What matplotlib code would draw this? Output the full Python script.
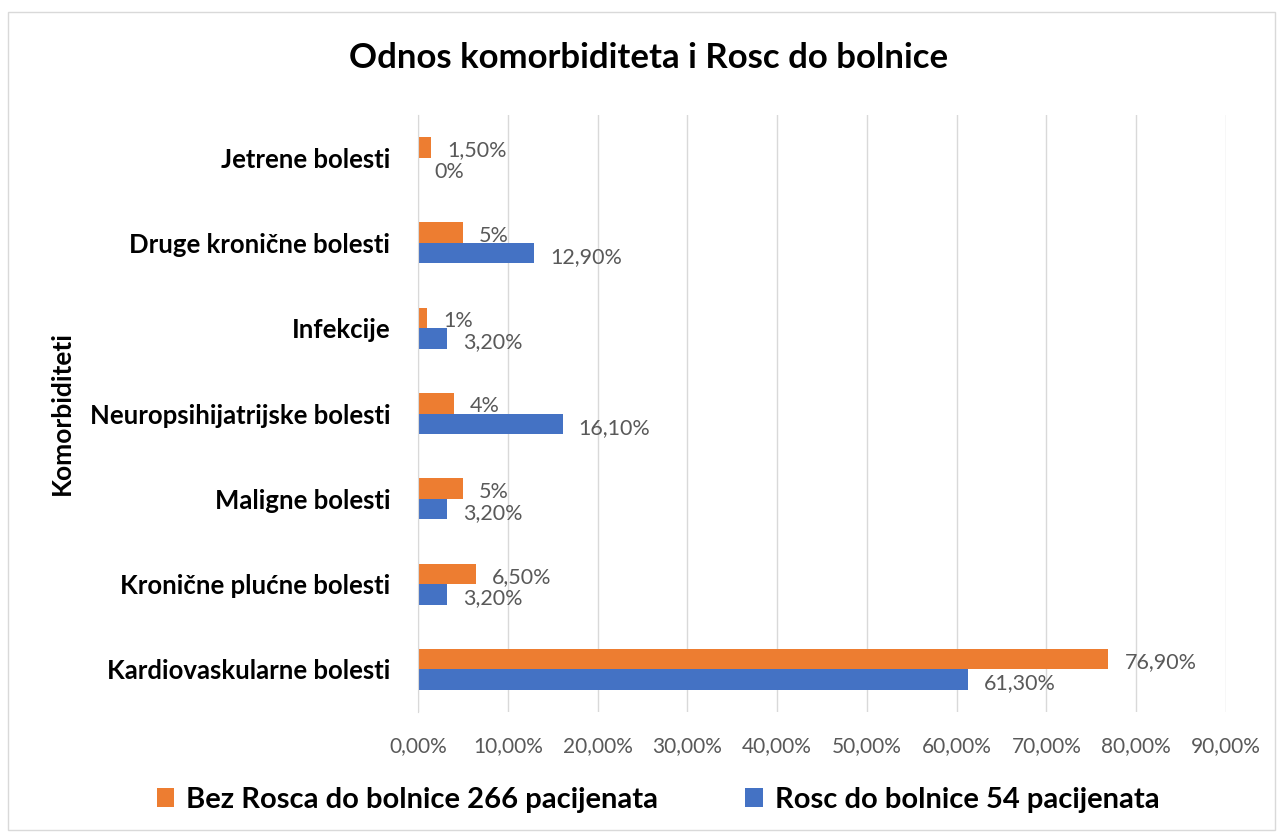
import numpy as np
from matplotlib import pyplot as plt
from matplotlib.patches import Rectangle

# podaci sa grafikona
kategorije = ["Kardiovaskularne bolesti", "Kronične plućne bolesti", "Maligne bolesti",
              "Neuropsihijatrijske bolesti", "Infekcije", "Druge kronične bolesti",
              "Jetrene bolesti"]
bez_rosca = [76.9, 6.5, 5.0, 4.0, 1.0, 5.0, 1.5]
bez_rosca_oznake = ["76,90%", "6,50%", "5%", "4%", "1%", "5%", "1,50%"]
rosc = [61.3, 3.2, 3.2, 16.1, 3.2, 12.9, 0.0]
rosc_oznake = ["61,30%", "3,20%", "3,20%", "16,10%", "3,20%", "12,90%", "0%"]
xticks = [0, 10, 20, 30, 40, 50, 60, 70, 80, 90]
xtick_oznake = ["0,00%", "10,00%", "20,00%", "30,00%", "40,00%", "50,00%",
                "60,00%", "70,00%", "80,00%", "90,00%"]

plt.rcParams['font.family'] = ['Lato', 'DejaVu Sans']

narandzasta = "#ED7D31"
plava = "#4472C4"
siva = "#595959"

fig = plt.figure(figsize=(12.82, 8.36), dpi=100)
# okvir oko cijele slike
fig.patches.append(Rectangle((8 / 1282, 6 / 836), 1267 / 1282, 818 / 836,
                             transform=fig.transFigure, fill=False,
                             edgecolor="#D9D9D9", linewidth=1))

ax = fig.add_axes([418 / 1282, 124 / 836, 808 / 1282, 597 / 836])

y = np.arange(len(kategorije))
h = 0.24
ax.barh(y + h / 2, bez_rosca, height=h, color=narandzasta, label="Bez Rosca do bolnice 266 pacijenata")
ax.barh(y - h / 2, rosc, height=h, color=plava, label="Rosc do bolnice 54 pacijenata")

# oznake vrijednosti
for i in range(len(kategorije)):
    ax.annotate(bez_rosca_oznake[i], (bez_rosca[i], y[i] + h / 2), xytext=(16, -3),
                textcoords="offset pixels", va="center", ha="left", fontsize=15.5, color=siva)
    ax.annotate(rosc_oznake[i], (rosc[i], y[i] - h / 2), xytext=(16, -4),
                textcoords="offset pixels", va="center", ha="left", fontsize=15.5, color=siva)

ax.set_xlim(0, 90)
ax.set_ylim(-0.5, len(kategorije) - 0.5)
ax.set_xticks(xticks)
ax.set_xticklabels(xtick_oznake, fontsize=15, color=siva)
ax.set_yticks(y)
ax.set_yticklabels(kategorije, fontsize=18.5, fontweight="bold")
ax.tick_params(axis="both", length=0)
ax.tick_params(axis="x", pad=17)
ax.tick_params(axis="y", pad=20)
ax.grid(axis="x", color="#D9D9D9", linewidth=1)
ax.set_axisbelow(True)
for s in ["top", "right", "bottom"]:
    ax.spines[s].set_visible(False)
ax.spines["left"].set_color("#D9D9D9")

ax.set_ylabel("Komorbiditeti", fontsize=19, fontweight="bold")
ax.yaxis.set_label_coords(-344 / 808, 0.5)

fig.suptitle("Odnos komorbiditeta i Rosc do bolnice", fontsize=25, fontweight="bold",
             x=649 / 1282, y=1 - 58 / 836, va="center")

leg = fig.legend(loc="center", bbox_to_anchor=(658 / 1282, 1 - 800 / 836), ncol=2,
                 frameon=False, prop={"size": 21, "weight": "bold"},
                 handlelength=0.6, handleheight=0.6, handletextpad=0.4, columnspacing=3.0)

fig.savefig("out.png", dpi=100)
